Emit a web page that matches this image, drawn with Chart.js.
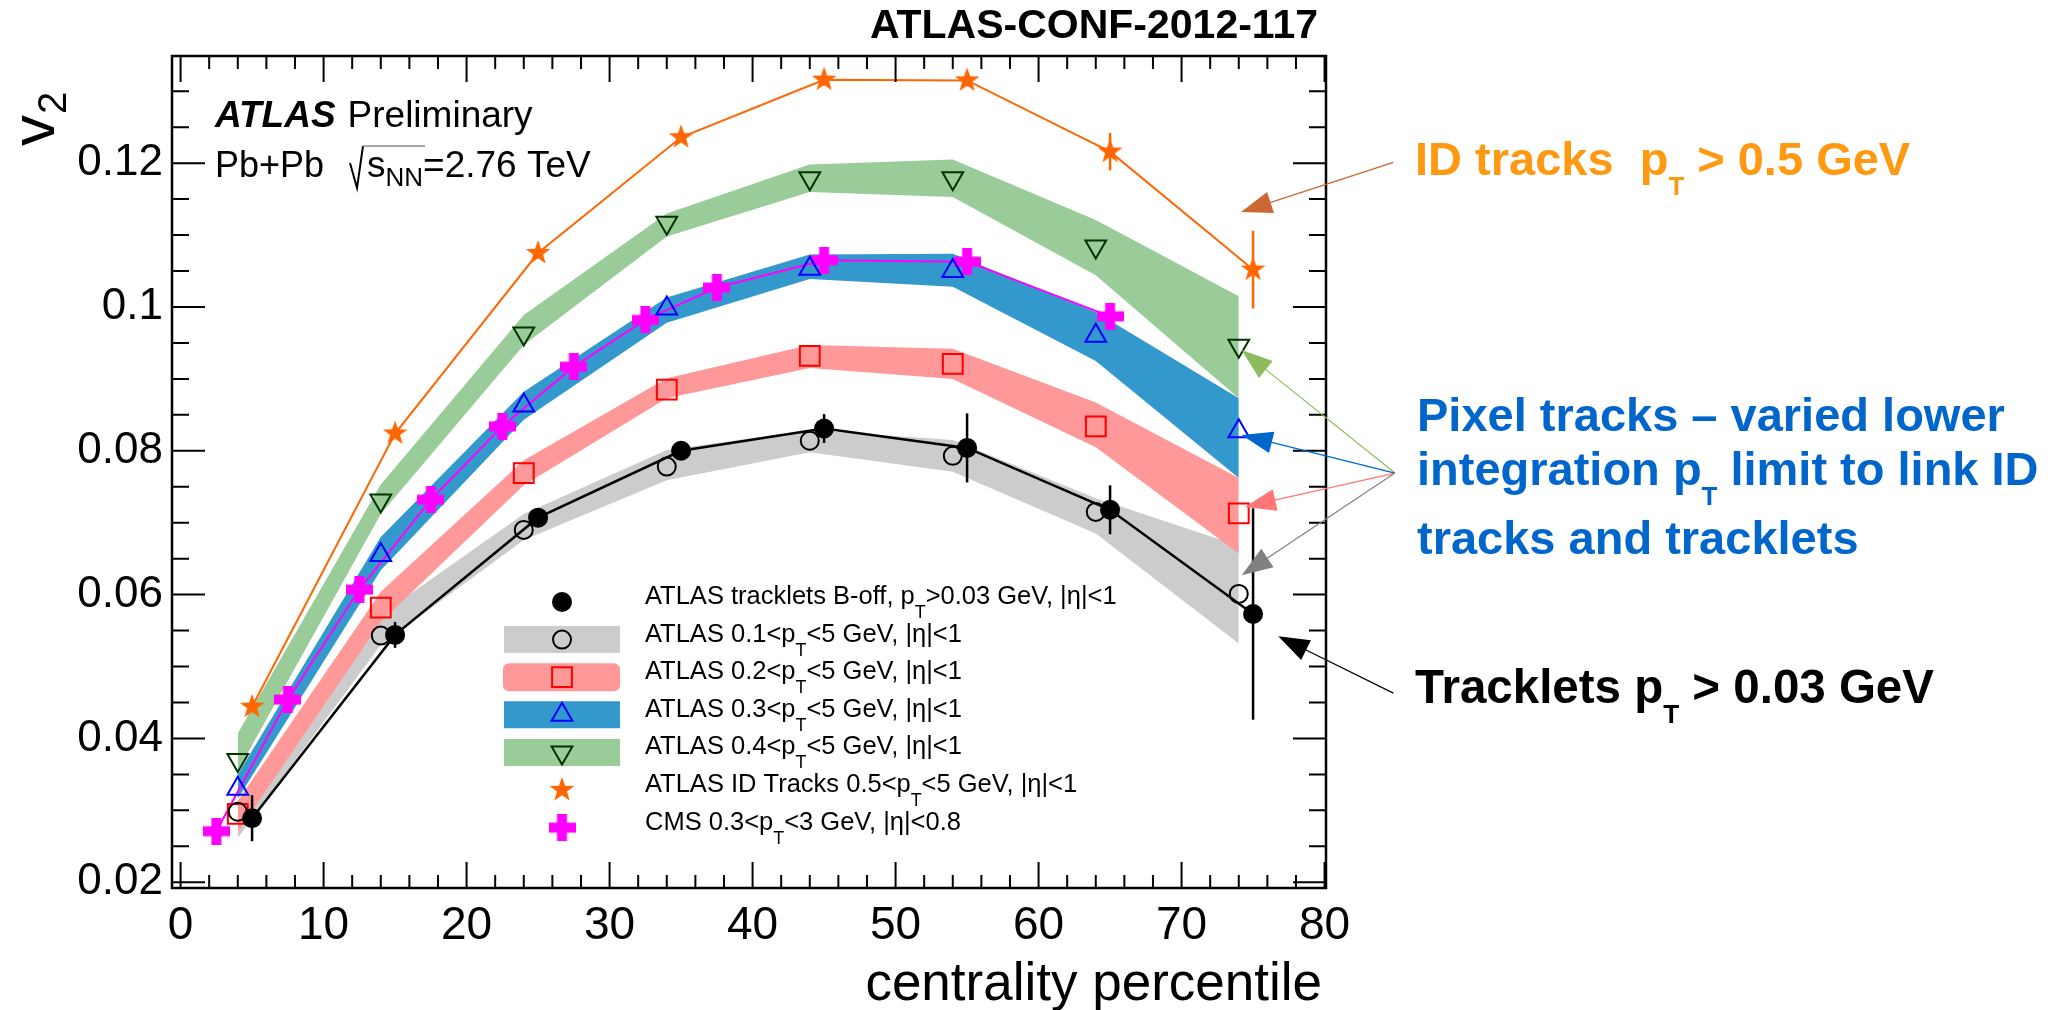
<!DOCTYPE html>
<html>
<head>
<meta charset="utf-8">
<script src="https://cdn.jsdelivr.net/npm/chart.js@4.4.1/dist/chart.umd.min.js"></script>
<style>
  html, body { margin: 0; padding: 0; background: #fff; }
</style>
</head>
<body>
<canvas id="v2Chart" width="2054" height="1010"></canvas>
<script>
// centrality bin centres
const atlasX = [4, 14, 24, 34, 44, 54, 64, 74];
const trackletX = [5, 15, 25, 35, 45, 55, 65, 75];
const cmsX = [2.5, 7.5, 12.5, 17.5, 22.5, 27.5, 32.5, 37.5, 45, 55, 65];

// ATLAS tracklets B-off, pT > 0.03 GeV
const trackletV2 = [0.0289, 0.0544, 0.0707, 0.0800, 0.0831, 0.0804, 0.0718, 0.0573];
const trackletErr = [0.0032, 0.0018, 0.0013, 0.0012, 0.0020, 0.0048, 0.0034, 0.0147];

// pixel tracks, varied lower pT limit (value, band top, band bottom)
const pt01V2 = [0.0298, 0.0543, 0.0690, 0.0778, 0.0814, 0.0793, 0.0715, 0.0601];
const pt01Hi = [0.0310, 0.0572, 0.0712, 0.0801, 0.0829, 0.0815, 0.0734, 0.0668];
const pt01Lo = [0.0262, 0.0530, 0.0676, 0.0759, 0.0798, 0.0771, 0.0685, 0.0532];

const pt02V2 = [0.0295, 0.0582, 0.0769, 0.0885, 0.0932, 0.0921, 0.0834, 0.0713];
const pt02Hi = [0.0313, 0.0604, 0.0787, 0.0901, 0.0947, 0.0942, 0.0867, 0.0762];
const pt02Lo = [0.0270, 0.0562, 0.0752, 0.0873, 0.0915, 0.0900, 0.0805, 0.0657];

const pt03V2 = [0.0330, 0.0655, 0.0863, 0.0998, 0.1053, 0.1050, 0.0960, 0.0827];
const pt03Hi = [0.0350, 0.0680, 0.0882, 0.1013, 0.1073, 0.1074, 0.0993, 0.0873];
const pt03Lo = [0.0316, 0.0634, 0.0843, 0.0978, 0.1039, 0.1028, 0.0925, 0.0762];

const pt04V2 = [0.0370, 0.0731, 0.0963, 0.1117, 0.1179, 0.1179, 0.1084, 0.0946];
const pt04Hi = [0.0407, 0.0753, 0.0989, 0.1130, 0.1198, 0.1205, 0.1121, 0.1015];
const pt04Lo = [0.0355, 0.0712, 0.0947, 0.1098, 0.1160, 0.1153, 0.1044, 0.0873];

// ATLAS ID tracks 0.5 < pT < 5 GeV
const idTrackV2 = [0.0444, 0.0824, 0.1075, 0.1236, 0.1316, 0.1315, 0.1216, 0.1052];
const idTrackErr = [0, 0, 0, 0, 0.0008, 0.0008, 0.0026, 0.0054];

// CMS 0.3 < pT < 3 GeV
const cmsV2 = [0.0271, 0.0454, 0.0607, 0.0732, 0.0834, 0.0917, 0.0982, 0.1027, 0.1065, 0.1063, 0.0987];

// axis ticks
const xTicks = [0, 10, 20, 30, 40, 50, 60, 70, 80];
const yTicks = [0.02, 0.04, 0.06, 0.08, 0.1, 0.12];
const yTickLabels = ['0.02', '0.04', '0.06', '0.08', '0.1', '0.12'];

const legendLabels = [
    'ATLAS tracklets B-off, p_{T}>0.03 GeV, |η|<1',
    'ATLAS 0.1<p_{T}<5 GeV, |η|<1',
    'ATLAS 0.2<p_{T}<5 GeV, |η|<1',
    'ATLAS 0.3<p_{T}<5 GeV, |η|<1',
    'ATLAS 0.4<p_{T}<5 GeV, |η|<1',
    'ATLAS ID Tracks 0.5<p_{T}<5 GeV, |η|<1',
    'CMS 0.3<p_{T}<3 GeV, |η|<0.8'
];

const FONT = "'Liberation Sans', Arial, Helvetica, sans-serif";

function pts(xs, ys) {
    return xs.map((x, i) => ({ x: x, y: ys[i] }));
}

function makeStar(color, rOut, rIn) {
    const size = Math.ceil(rOut * 2 + 2);
    const c = document.createElement('canvas');
    c.width = c.height = size;
    const g = c.getContext('2d');
    g.fillStyle = color;
    g.beginPath();
    for (let i = 0; i < 10; i++) {
        const r = i % 2 ? rIn : rOut;
        const a = -Math.PI / 2 + i * Math.PI / 5;
        g.lineTo(size / 2 + r * Math.cos(a), size / 2 + r * Math.sin(a));
    }
    g.closePath();
    g.fill();
    return c;
}

function makeCross(color, len, arm) {
    const c = document.createElement('canvas');
    c.width = c.height = len;
    const g = c.getContext('2d');
    g.fillStyle = color;
    g.fillRect((len - arm) / 2, 0, arm, len);
    g.fillRect(0, (len - arm) / 2, len, arm);
    return c;
}

const starImg = makeStar('#ff6600', 13, 5.2);
const crossImg = makeCross('#ff00ff', 27, 10);

const BAND_GRAY = '#cccccc';
const BAND_RED = '#ff9999';
const BAND_BLUE = '#3399cc';
const BAND_GREEN = '#99cc99';
const NONE = 'rgba(0,0,0,0)';

function band(xs, ys, color, order, fill) {
    return {
        data: pts(xs, ys), fill: fill, backgroundColor: color, borderColor: NONE,
        borderWidth: 0, pointRadius: 0, order: order
    };
}

function markers(xs, ys, style, opts) {
    return Object.assign({
        data: pts(xs, ys), showLine: false, fill: false,
        pointStyle: style, pointRadius: 9, pointBorderWidth: 2,
        pointBackgroundColor: NONE, pointBorderColor: '#000'
    }, opts);
}

const datasets = [
    // 0 tracklets (line + filled circles)
    markers(trackletX, trackletV2, 'circle', {
        showLine: true, borderColor: '#000', borderWidth: 2.5,
        pointBackgroundColor: '#000', pointRadius: 9, order: 0,
        errors: trackletErr, errorColor: '#000'
    }),
    // 1 open circles
    markers(atlasX, pt01V2, 'circle', { pointRadius: 9, order: 1 }),
    // 2 red squares
    markers(atlasX, pt02V2, 'rect', { pointRadius: 14, pointBorderColor: '#ff0000', order: 2 }),
    // 3 blue triangles
    markers(atlasX, pt03V2, 'triangle', { pointRadius: 12, pointBorderColor: '#0000ff', order: 2 }),
    // 4 green inverted triangles
    markers(atlasX, pt04V2, 'triangle', { pointRadius: 12, pointRotation: 180, pointBorderColor: '#003300', order: 2 }),
    // 5 CMS crosses
    markers(cmsX, cmsV2, crossImg, { showLine: true, borderColor: '#ff00ff', borderWidth: 2, order: 3 }),
    // 6 ID tracks stars
    markers(trackletX, idTrackV2, starImg, {
        showLine: true, borderColor: '#ff6600', borderWidth: 2, order: 4,
        errors: idTrackErr, errorColor: '#ff6600'
    }),
    // systematic bands
    band(atlasX, pt04Hi, BAND_GREEN, 11, '+1'),
    band(atlasX, pt04Lo, BAND_GREEN, 11, false),
    band(atlasX, pt03Hi, BAND_BLUE, 12, '+1'),
    band(atlasX, pt03Lo, BAND_BLUE, 12, false),
    band(atlasX, pt02Hi, BAND_RED, 13, '+1'),
    band(atlasX, pt02Lo, BAND_RED, 13, false),
    band(atlasX, pt01Hi, BAND_GRAY, 14, '+1'),
    band(atlasX, pt01Lo, BAND_GRAY, 14, false)
];

// legend rows: marker style + optional band colour
const legendStyles = [
    { style: 'circle', radius: 9, fill: '#000', stroke: '#000' },
    { style: 'circle', radius: 9, fill: NONE, stroke: '#000', band: BAND_GRAY },
    { style: 'rect', radius: 14, fill: NONE, stroke: '#ff0000', band: BAND_RED, round: 6 },
    { style: 'triangle', radius: 12, fill: NONE, stroke: '#0000ff', band: BAND_BLUE },
    { style: 'triangle', radius: 12, rotation: 180, fill: NONE, stroke: '#003300', band: BAND_GREEN },
    { style: starImg },
    { style: crossImg }
];

// annotation arrows, in data units (x, v2)
const arrows = [
    { from: [84.81, 0.1201], to: [74.16, 0.1132], color: '#cc6633' },
    { from: [84.92, 0.0769], to: [74.20, 0.0940], color: '#8fbc5a' },
    { from: [84.92, 0.0769], to: [74.20, 0.0822], color: '#0066cc' },
    { from: [84.92, 0.0769], to: [74.43, 0.0722], color: '#ff7777' },
    { from: [84.92, 0.0769], to: [74.20, 0.0627], color: '#808080' },
    { from: [84.81, 0.0463], to: [76.76, 0.0542], color: '#000000' }
];

function richText(ctx, str, x, y, size, o) {
    o = o || {};
    const weight = o.weight || 'normal';
    const style = o.style || 'normal';
    const subScale = o.subScale || 0.65;
    const subDrop = o.subDrop || 0.45;
    ctx.fillStyle = o.color || '#000';
    ctx.textAlign = 'left';
    ctx.textBaseline = 'alphabetic';
    const parts = str.split(/_\{(.*?)\}/);
    let cx = x;
    parts.forEach((p, i) => {
        const sub = i % 2 === 1;
        const fs = sub ? size * subScale : size;
        ctx.font = style + ' ' + weight + ' ' + fs + 'px ' + FONT;
        ctx.fillText(p, cx, sub ? y + size * subDrop : y);
        cx += ctx.measureText(p).width;
    });
    return cx;
}

function drawArrow(ctx, x1, y1, x2, y2, color) {
    const ang = Math.atan2(y2 - y1, x2 - x1);
    const len = 31, half = 11;
    ctx.save();
    ctx.strokeStyle = color;
    ctx.fillStyle = color;
    ctx.lineWidth = 1.2;
    ctx.beginPath();
    ctx.moveTo(x1, y1);
    ctx.lineTo(x2 - Math.cos(ang) * len * 0.8, y2 - Math.sin(ang) * len * 0.8);
    ctx.stroke();
    const bx = x2 - Math.cos(ang) * len, by = y2 - Math.sin(ang) * len;
    ctx.beginPath();
    ctx.moveTo(x2, y2);
    ctx.lineTo(bx + Math.sin(ang) * half, by - Math.cos(ang) * half);
    ctx.lineTo(bx - Math.sin(ang) * half, by + Math.cos(ang) * half);
    ctx.closePath();
    ctx.fill();
    ctx.restore();
}

const errorBarPlugin = {
    id: 'errorBars',
    beforeDatasetDraw(chart, args) {
        const ds = chart.data.datasets[args.index];
        if (!ds.errors) return;
        const { ctx, scales: { x, y } } = chart;
        ctx.save();
        ctx.strokeStyle = ds.errorColor;
        ctx.lineWidth = 2.5;
        ds.data.forEach((p, i) => {
            const e = ds.errors[i];
            if (!e) return;
            const px = x.getPixelForValue(p.x);
            ctx.beginPath();
            ctx.moveTo(px, y.getPixelForValue(p.y - e));
            ctx.lineTo(px, y.getPixelForValue(p.y + e));
            ctx.stroke();
        });
        ctx.restore();
    }
};

const framePlugin = {
    id: 'frameAndText',
    afterDraw(chart) {
        const { ctx, chartArea: a, scales: { x, y } } = chart;
        ctx.save();

        // frame
        ctx.strokeStyle = '#000';
        ctx.lineWidth = 2.5;
        ctx.strokeRect(a.left, a.top, a.right - a.left, a.bottom - a.top);

        // inward ticks, all four sides
        ctx.lineWidth = 2;
        ctx.beginPath();
        for (let v = 0; v <= 80; v += 2) {
            const px = x.getPixelForValue(v);
            const l = v % 10 === 0 ? 26 : 13;
            ctx.moveTo(px, a.bottom); ctx.lineTo(px, a.bottom - l);
            ctx.moveTo(px, a.top); ctx.lineTo(px, a.top + l);
        }
        for (let k = 4; k <= 26; k++) {
            const v = k * 0.005;
            const py = y.getPixelForValue(v);
            const l = k % 4 === 0 ? 33 : 17;
            ctx.moveTo(a.left, py); ctx.lineTo(a.left + l, py);
            ctx.moveTo(a.right, py); ctx.lineTo(a.right - l, py);
        }
        ctx.stroke();

        // axis titles
        ctx.fillStyle = '#000';
        ctx.font = '53px ' + FONT;
        ctx.textAlign = 'right';
        ctx.textBaseline = 'alphabetic';
        ctx.fillText('centrality percentile', a.right - 4, 1000);

        ctx.save();
        ctx.translate(54, 146);
        ctx.rotate(-Math.PI / 2);
        ctx.font = '62px ' + FONT;
        ctx.textAlign = 'left';
        ctx.fillText('v', 0, 0);
        const vw = ctx.measureText('v').width;
        ctx.font = '40px ' + FONT;
        ctx.fillText('2', vw + 1, 12);
        ctx.restore();

        // top label
        ctx.font = 'bold 41px ' + FONT;
        ctx.textAlign = 'right';
        ctx.fillText('ATLAS-CONF-2012-117', 1318, 38);

        // ATLAS Preliminary, Pb+Pb sqrt(sNN)
        const ax = richText(ctx, 'ATLAS', 215, 127, 37, { weight: 'bold', style: 'italic' });
        richText(ctx, 'Preliminary', ax + 12, 127, 37);
        richText(ctx, 'Pb+Pb', 215, 177, 36);
        ctx.strokeStyle = '#000';
        ctx.lineWidth = 2;
        ctx.beginPath();
        ctx.moveTo(350, 163); ctx.lineTo(357, 188); ctx.lineTo(363, 146);
        ctx.stroke();
        ctx.strokeStyle = '#888';
        ctx.lineWidth = 1.5;
        ctx.beginPath();
        ctx.moveTo(363, 146); ctx.lineTo(425, 146);
        ctx.stroke();
        let sx = richText(ctx, 's', 367, 177, 37);
        sx = richText(ctx, 'NN', sx, 186, 26);
        richText(ctx, '=2.76 TeV', sx, 177, 37);

        // legend
        const mx = 562, tx = 645;
        legendStyles.forEach((s, i) => {
            const cy = 602 + i * 37.6;
            if (s.band) {
                ctx.fillStyle = s.band;
                ctx.beginPath();
                if (s.round) ctx.roundRect(503, cy - 14, 117, 28, s.round);
                else ctx.rect(504, cy - 13.5, 116, 27);
                ctx.fill();
            }
            ctx.fillStyle = s.fill || NONE;
            ctx.strokeStyle = s.stroke || NONE;
            ctx.lineWidth = 2;
            Chart.helpers.drawPoint(ctx, {
                pointStyle: s.style, radius: s.radius || 10,
                rotation: s.rotation || 0, borderWidth: s.stroke ? 2 : 0
            }, mx, cy);
            richText(ctx, legendLabels[i], tx, cy + 2, 25.5, { subScale: 0.7, subDrop: 0.55 });
        });

        // arrows
        arrows.forEach(ar => {
            drawArrow(ctx, x.getPixelForValue(ar.from[0]), y.getPixelForValue(ar.from[1]),
                x.getPixelForValue(ar.to[0]), y.getPixelForValue(ar.to[1]), ar.color);
        });

        // side annotations
        const big = { weight: 'bold', subScale: 0.55, subDrop: 0.42 };
        richText(ctx, 'ID tracks  p_{T} > 0.5 GeV', 1415, 175, 47, Object.assign({ color: '#ff9912' }, big));
        richText(ctx, 'Pixel tracks – varied lower', 1417, 431, 47, Object.assign({ color: '#0066cc' }, big));
        richText(ctx, 'integration p_{T} limit to link ID', 1417, 485, 47, Object.assign({ color: '#0066cc' }, big));
        richText(ctx, 'tracks and tracklets', 1417, 554, 47, Object.assign({ color: '#0066cc' }, big));
        richText(ctx, 'Tracklets p_{T} > 0.03 GeV', 1415, 703, 47.5, Object.assign({ color: '#000' }, big));

        ctx.restore();
    }
};

Chart.defaults.font.family = FONT;
Chart.defaults.color = '#000';

new Chart(document.getElementById('v2Chart').getContext('2d'), {
    type: 'line',
    data: { datasets: datasets },
    options: {
        responsive: false,
        animation: false,
        events: [],
        devicePixelRatio: 1,
        layout: { padding: { left: 0, top: 56, right: 728, bottom: 0 } },
        elements: { line: { tension: 0 } },
        plugins: { legend: { display: false }, tooltip: { enabled: false } },
        scales: {
            x: {
                type: 'linear', min: -0.6, max: 80.1,
                grid: { display: false, drawTicks: false },
                border: { display: false },
                afterBuildTicks: s => { s.ticks = xTicks.map(v => ({ value: v })); },
                afterFit: s => { s.height = 122; },
                ticks: {
                    padding: 11, autoSkip: false, maxRotation: 0,
                    font: { size: 46 }, color: '#000',
                    callback: v => String(v)
                }
            },
            y: {
                type: 'linear', min: 0.0192, max: 0.1349,
                grid: { display: false, drawTicks: false },
                border: { display: false },
                afterBuildTicks: s => { s.ticks = yTicks.map(v => ({ value: v })); },
                afterFit: s => { s.width = 172; },
                ticks: {
                    padding: 9, autoSkip: false,
                    font: { size: 44 }, color: '#000',
                    callback: (v, i) => yTickLabels[i]
                }
            }
        }
    },
    plugins: [errorBarPlugin, framePlugin]
});
</script>
</body>
</html>
